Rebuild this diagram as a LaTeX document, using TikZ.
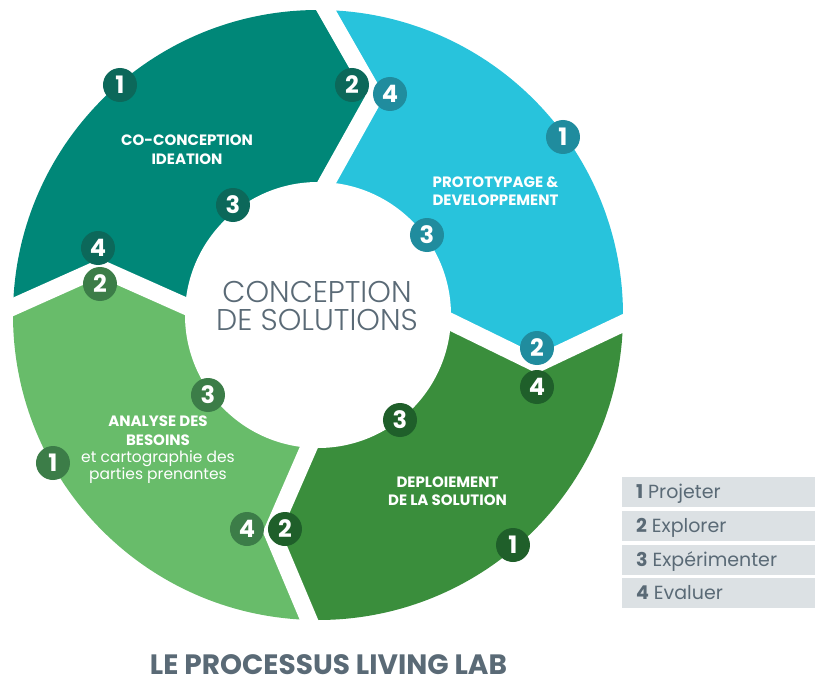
\documentclass[tikz,border=0pt]{standalone}
\usepackage{fontspec}
\setmainfont{Poppins}
\newfontfamily\lightfont{Poppins Light}
\definecolor{tealseg}{RGB}{0,135,120}
\definecolor{tealbadge}{RGB}{12,104,90}
\definecolor{cyanseg}{RGB}{40,195,220}
\definecolor{cyanbadge}{RGB}{32,140,158}
\definecolor{greenseg}{RGB}{58,142,60}
\definecolor{greenbadge}{RGB}{31,95,42}
\definecolor{lightseg}{RGB}{104,188,106}
\definecolor{lightbadge}{RGB}{60,125,72}
\definecolor{textgray}{RGB}{90,106,118}
\definecolor{legendgray}{RGB}{220,225,228}
\begin{document}
\begin{tikzpicture}
[x=1pt, y=1pt,
badge/.style={circle,fill=#1,text=white,minimum size=34pt,inner sep=0pt,font=\fontsize{24}{24}\selectfont\bfseries},
seglabel/.style={text=white,align=center,font=\fontsize{15}{18.5}\selectfont\bfseries},
legendbox/.style={fill=legendgray,minimum width=193pt,minimum height=30pt,inner sep=0pt},
legendtext/.style={anchor=base west,xshift=14pt,yshift=-6.5pt,inner sep=0pt,text=textgray,font=\fontsize{19}{19}\selectfont},
gapline/.style={white,line width=17pt,line join=miter}]
\useasboundingbox (-318,-371) rectangle (497,315);

\coordinate (o) at (0,0);
\coordinate (lin) at (-90,-10);
\coordinate (lv) at (-218,47);
\coordinate (lout) at (-332,-4);
\coordinate (tin) at (-15,90);
\coordinate (tv) at (57,219);
\coordinate (tout) at (-7,331);
\coordinate (rin) at (90,14);
\coordinate (rv) at (219,-49);
\coordinate (rout) at (331,4);
\coordinate (bin) at (9.5,-89.5);
\coordinate (bv) at (-46,-217);
\coordinate (bout) at (2,-331);

\begin{scope}
\clip (o) circle (305pt);
\fill[tealseg] (o) -- (lin) -- (lv) -- (lout) -- (135:500) -- (tout) -- (tv) -- (tin) -- cycle;
\fill[cyanseg] (o) -- (tin) -- (tv) -- (tout) -- (45:500) -- (rout) -- (rv) -- (rin) -- cycle;
\fill[greenseg] (o) -- (rin) -- (rv) -- (rout) -- (-45:500) -- (bout) -- (bv) -- (bin) -- cycle;
\fill[lightseg] (o) -- (bin) -- (bv) -- (bout) -- (-135:500) -- (lout) -- (lv) -- (lin) -- cycle;
\end{scope}
\fill[white] (o) circle (133pt);
\draw[gapline] (lout) -- (lv) -- (lin);
\draw[gapline] (tout) -- (tv) -- (tin);
\draw[gapline] (rout) -- (rv) -- (rin);
\draw[gapline] (bout) -- (bv) -- (bin);

\node[text=textgray, align=center, font=\lightfont\fontsize{30}{27.5}\selectfont] (centre) at (-1,9) {CONCEPTION\\DE SOLUTIONS};

\node[seglabel] (colabel) at (-131,165.5) {CO-CONCEPTION\\IDEATION};
\node[seglabel] (protolabel) at (177.5,124) {PROTOTYPAGE \&\\DEVELOPPEMENT};
\node[seglabel] (deploilabel) at (129.5,-176) {DEPLOIEMENT\\DE LA SOLUTION};
\node[seglabel] (analabel) at (-160,-115.5) {ANALYSE DES\\BESOINS};
\node[text=white, align=center, font=\fontsize{15.5}{15.5}\selectfont] (anasub) at (-160,-152.5) {et cartographie des\\parties prenantes};

\node[badge=tealbadge] (co1) at (-198,230) {1};
\node[badge=tealbadge] (co2) at (34,230) {2};
\node[badge=tealbadge] (co3) at (-85,110) {3};
\node[badge=tealbadge] (co4) at (-220,67) {4};

\node[badge=cyanbadge] (proto4) at (72,221) {4};
\node[badge=cyanbadge] (proto1) at (245,178) {1};
\node[badge=cyanbadge] (proto3) at (109,80) {3};
\node[badge=cyanbadge] (proto2) at (219,-33) {2};

\node[badge=greenbadge] (deploi4) at (219,-72) {4};
\node[badge=greenbadge] (deploi3) at (82,-105) {3};
\node[badge=greenbadge] (deploi1) at (195,-230) {1};
\node[badge=greenbadge] (deploi2) at (-33,-214) {2};

\node[badge=lightbadge] (ana2) at (-218,31) {2};
\node[badge=lightbadge] (ana3) at (-110,-80) {3};
\node[badge=lightbadge] (ana1) at (-265,-148) {1};
\node[badge=lightbadge] (ana4) at (-71,-214) {4};

\node[legendbox] (leg1) at (400.5,-177) {};
\node[legendbox] (leg2) at (400.5,-211) {};
\node[legendbox] (leg3) at (400.5,-245) {};
\node[legendbox] (leg4) at (400.5,-278) {};
\node[legendtext] at (leg1.west) {\textbf{1} Projeter};
\node[legendtext] at (leg2.west) {\textbf{2} Explorer};
\node[legendtext] at (leg3.west) {\textbf{3} Expérimenter};
\node[legendtext] at (leg4.west) {\textbf{4} Evaluer};

\node[anchor=base, inner sep=0pt, text=textgray, font=\fontsize{28}{28}\selectfont\bfseries] (title) at (10.5,-359) {LE PROCESSUS LIVING LAB};
\end{tikzpicture}
\end{document}
